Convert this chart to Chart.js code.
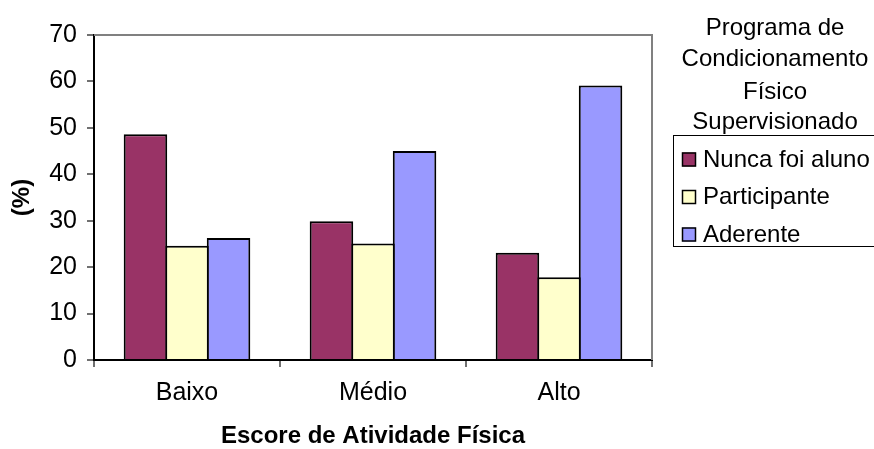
<!DOCTYPE html>
<html><head><meta charset="utf-8">
<script src="https://cdn.jsdelivr.net/npm/chart.js@4.4.1/dist/chart.umd.min.js"></script>
<style>html,body{margin:0;padding:0;background:#fff;overflow:hidden}</style>
</head><body>
<canvas id="c" width="874" height="449" style="width:874px;height:449px"></canvas>
<script>
const categories = ['Baixo', 'Médio', 'Alto'];
const seriesNames = ['Nunca foi aluno', 'Participante', 'Aderente'];
const nuncaFoiAluno = [48.6, 29.9, 23.1];
const participante = [24.6, 25.1, 17.8];
const aderente = [26.3, 45.0, 59.1];
const yTickValues = [0, 10, 20, 30, 40, 50, 60, 70];
const legendTitle = ['Programa de', 'Condicionamento', 'Físico', 'Supervisionado'];
const xTitle = 'Escore de Atividade Física';
const yTitle = '(%)';
const seriesColors = ['#993366', '#FFFFCC', '#9999FF'];

const FONT = '"Liberation Sans", Arial, sans-serif';

const framePlugin = {
  id: 'frame',
  afterDraw(chart) {
    const { ctx, chartArea: a } = chart;
    ctx.save();
    // gray top & right plot border
    ctx.strokeStyle = '#808080';
    ctx.lineWidth = 2;
    ctx.beginPath();
    ctx.moveTo(a.left, a.top);
    ctx.lineTo(a.right, a.top);
    ctx.lineTo(a.right, a.bottom);
    ctx.stroke();

    // legend title
    ctx.fillStyle = '#000';
    ctx.textAlign = 'center';
    ctx.textBaseline = 'alphabetic';
    ctx.font = '24px ' + FONT;
    const titleBaselines = [35, 66, 98.5, 128.5];
    legendTitle.forEach((t, i) => ctx.fillText(t, 775, titleBaselines[i]));

    // legend box
    ctx.strokeStyle = '#000';
    ctx.lineWidth = 1;
    ctx.strokeRect(673.5, 135.5, 210, 111);

    // legend items
    ctx.font = '24px ' + FONT;
    ctx.textAlign = 'left';
    const itemBaselines = [166.5, 204, 241.5];
    chart.data.datasets.forEach((ds, i) => {
      const b = itemBaselines[i];
      ctx.fillStyle = ds.backgroundColor;
      ctx.fillRect(682, b - 14, 14, 14);
      ctx.lineWidth = 1.5;
      ctx.strokeStyle = '#000';
      ctx.strokeRect(682.5, b - 13.5, 13, 13);
      ctx.fillStyle = '#000';
      ctx.fillText(ds.label, 703, b);
    });
    ctx.restore();
  }
};

const seriesValues = [nuncaFoiAluno, participante, aderente];
const datasets = seriesNames.map((name, i) => ({
  label: name,
  data: seriesValues[i],
  backgroundColor: seriesColors[i],
  borderColor: '#000',
  borderWidth: 2,
  borderSkipped: 'bottom',
  categoryPercentage: 0.67,
  barPercentage: 1.048
}));

new Chart(document.getElementById('c'), {
  type: 'bar',
  data: { labels: categories, datasets },
  options: {
    responsive: false,
    animation: false,
    devicePixelRatio: 1,
    layout: { padding: { left: 0, top: 35, right: 222, bottom: 0 } },
    plugins: { legend: { display: false }, tooltip: { enabled: false } },
    scales: {
      x: {
        afterFit(s) { s.height = 89; },
        grid: { display: true, drawOnChartArea: false, drawTicks: true, tickLength: 7, color: '#707070', lineWidth: 2, offset: true },
        border: { display: true, color: '#000', width: 2 },
        ticks: { color: '#000', font: { family: FONT, size: 25 }, padding: 11 },
        title: { display: true, text: xTitle, color: '#000', font: { family: FONT, size: 24, weight: 'bold' }, padding: { top: 0, bottom: -2 } }
      },
      y: {
        min: 0, max: 70,
        afterFit(s) { s.width = 94; },
        afterBuildTicks(s) { s.ticks = yTickValues.map(v => ({ value: v })); },
        grid: { display: true, drawOnChartArea: false, drawTicks: true, tickLength: 7, color: '#707070', lineWidth: 2 },
        border: { display: true, color: '#000', width: 2 },
        ticks: { color: '#000', font: { family: FONT, size: 25 }, padding: 10 },
        title: { display: true, text: yTitle, color: '#000', font: { family: FONT, size: 24, weight: 'bold' }, padding: { top: 8, bottom: 0 } }
      }
    }
  },
  plugins: [framePlugin]
});
</script>
</body></html>
